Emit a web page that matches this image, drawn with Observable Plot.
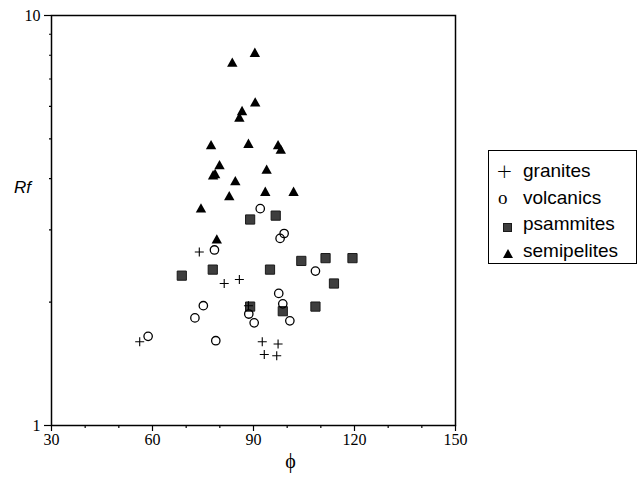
<!DOCTYPE html>
<html><head><meta charset="utf-8">
<script src="https://cdn.jsdelivr.net/npm/d3@7"></script>
<script src="https://cdn.jsdelivr.net/npm/@observablehq/plot@0.6"></script>
<style>
body{margin:0;background:#fff;}
#wrap{position:relative;width:642px;height:481px;}
#legend{position:absolute;left:488px;top:150px;width:149px;height:114px;box-sizing:border-box;border:1px solid #000;font-family:"Liberation Sans",Arial,sans-serif;font-size:19px;color:#000;}
.row{position:absolute;left:34px;height:27px;line-height:27px;white-space:nowrap;}
.sym{position:absolute;}
</style>
</head><body>
<div id="wrap"></div>
<script>
// ---- data ----
const granitesPhi = [73.9, 81.3, 85.8, 88.5, 56.2, 92.6, 97.3, 93.2, 96.9];
const granitesRf  = [2.65, 2.22, 2.27, 1.96, 1.60, 1.60, 1.58, 1.49, 1.48];

const volcanicsPhi = [92.0, 99.1, 97.9, 78.4, 108.4, 97.5, 98.7, 75.1, 72.6, 88.6, 90.2, 100.8, 58.7, 78.8];
const volcanicsRf  = [3.38, 2.94, 2.86, 2.68, 2.38, 2.10, 1.98, 1.96, 1.83, 1.87, 1.78, 1.80, 1.65, 1.61];

const psammitesPhi = [89.0, 96.6, 68.7, 77.9, 94.9, 104.2, 111.4, 119.4, 113.9, 89.0, 98.7, 108.4];
const psammitesRf  = [3.18, 3.25, 2.32, 2.40, 2.40, 2.52, 2.56, 2.56, 2.22, 1.95, 1.90, 1.95];

const semipelitesPhi = [90.4, 83.7, 90.5, 86.6, 85.8, 77.4, 88.5, 97.3, 98.1, 79.9, 78.6, 78.0, 93.9, 84.6, 82.8, 93.5, 101.9, 74.4, 79.1];
const semipelitesRf  = [8.10, 7.66, 6.13, 5.84, 5.63, 4.82, 4.86, 4.82, 4.70, 4.31, 4.10, 4.07, 4.20, 3.94, 3.62, 3.71, 3.71, 3.38, 2.84];

const seriesNames = ["granites", "volcanics", "psammites", "semipelites"];
const xTicks = [30, 60, 90, 120, 150];
const xMinorTicks = [40, 50, 70, 80, 100, 110, 130, 140];
const yTicks = [1, 10];
const yMinorTicks = [2, 3, 4, 5, 6, 7, 8, 9];
const xLabel = "\u03D5";
const yLabel = "Rf";

// ---- custom symbols (r = half size) ----
const half = (size) => Math.sqrt(size / Math.PI);
const plusSym = {draw(c, s){const r = half(s); c.moveTo(-r,0); c.lineTo(r,0); c.moveTo(0,-r); c.lineTo(0,r);}};
const squareSym = {draw(c, s){const r = half(s); c.rect(-r,-r,2*r,2*r);}};
const triSym = {draw(c, s){const r = half(s); c.moveTo(0,-1.05*r); c.lineTo(r,0.75*r); c.lineTo(-r,0.75*r); c.closePath();}};

const toRows = (phi, rf) => phi.map((p, i) => ({phi: p, rf: rf[i]}));
const granites = toRows(granitesPhi, granitesRf);
const volcanics = toRows(volcanicsPhi, volcanicsRf);
const psammites = toRows(psammitesPhi, psammitesRf);
const semipelites = toRows(semipelitesPhi, semipelitesRf);

const serif = "Liberation Serif";

const chart = Plot.plot({
  width: 642, height: 481,
  marginLeft: 51, marginRight: 187, marginTop: 15, marginBottom: 56,
  x: {domain: [30, 150]},
  y: {type: "log", domain: [1, 10]},
  style: {fontSize: "16px", color: "#000", background: "#fff", overflow: "visible"},
  marks: [
    Plot.axisX({ticks: xMinorTicks, tickSize: 3, tickFormat: () => "", label: null, strokeWidth: 1.2}),
    Plot.axisX({ticks: xTicks, tickSize: 6, tickPadding: 2, tickFormat: d => String(d), label: null, strokeWidth: 1.2, fontSize: 16, fontFamily: serif}),
    Plot.axisY({ticks: yMinorTicks, tickSize: 2, tickFormat: () => "", label: null, strokeWidth: 1.2}),
    Plot.axisY({ticks: yTicks, tickSize: 7, tickPadding: 4, tickFormat: d => String(d), label: null, strokeWidth: 1.2, fontSize: 16, fontFamily: serif}),
    Plot.dot(psammites, {x: "phi", y: "rf", symbol: squareSym, r: 4.6, fill: "#3e3e3e", stroke: "#1a1a1a", strokeWidth: 1}),
    Plot.dot(semipelites, {x: "phi", y: "rf", symbol: triSym, r: 5.2, fill: "#000", stroke: "none"}),
    Plot.dot(volcanics, {x: "phi", y: "rf", symbol: "circle", r: 4.2, fill: "none", stroke: "#000", strokeWidth: 1.3}),
    Plot.dot(granites, {x: "phi", y: "rf", symbol: plusSym, r: 4.5, fill: "none", stroke: "#000", strokeWidth: 1.1}),
    Plot.frame({stroke: "#000", strokeWidth: 1.5}),
    Plot.text([yLabel], {frameAnchor: "left", textAnchor: "middle", dx: -29, dy: -33, fontSize: 17, fontStyle: "italic", fontFamily: "Liberation Sans"}),
    Plot.text([xLabel], {frameAnchor: "bottom", dx: 37, dy: 42, fontSize: 20, fontFamily: serif})
  ]
});
const wrap = document.getElementById("wrap");
wrap.appendChild(chart);

// ---- legend ----
const legend = document.createElement("div");
legend.id = "legend";
const symbolsHtml = [
  `<div class="sym" style="left:7px;top:7px;font-size:20px;line-height:27px;font-family:'DejaVu Sans',sans-serif;font-weight:200">+</div>`,
  `<div class="sym" style="left:9px;top:33px;font-size:19px;line-height:27px;font-family:'Liberation Serif',serif">o</div>`,
  `<svg class="sym" style="left:14px;top:72px" width="9" height="9"><rect x="0.5" y="0.5" width="8" height="8" fill="#3e3e3e" stroke="#1a1a1a"/></svg>`,
  `<svg class="sym" style="left:14px;top:98px" width="10" height="9"><path d="M5,0L10,9L0,9Z" fill="#000"/></svg>`
];
legend.innerHTML = symbolsHtml.join("") + seriesNames.map((n, i) => `<div class="row" style="top:${6 + i * 26.7}px">${n}</div>`).join("");
wrap.appendChild(legend);
</script>
</body></html>
